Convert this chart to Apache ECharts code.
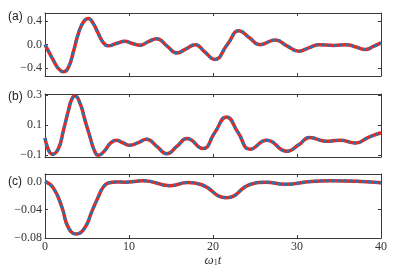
<!DOCTYPE html>
<html>
<head>
<meta charset="utf-8">
<script src="https://cdn.jsdelivr.net/npm/echarts@6/dist/echarts.min.js"></script>
<style>
  html, body { margin: 0; padding: 0; background: #fff; }
  #main { width: 395px; height: 276px; }
</style>
</head>
<body>
<div id="main"></div>
<script>
// panel (a)
var tA = [0, 1.0, 1.6, 2.2, 2.8, 3.37, 3.97, 4.56, 5.16, 5.75, 6.35, 6.94, 7.5, 8.5, 9.5, 10.4, 11.3, 12.3, 13.3, 14.5, 15.7, 16.8, 17.9, 19.0, 20.2, 21.7, 23.1, 24.3, 25.6, 27.4, 28.8, 30.2, 31.4, 32.6, 34.4, 35.9, 37.0, 38.2, 39.1, 40];
var vA = [0.0, -0.265, -0.405, -0.46, -0.38, -0.125, 0.186, 0.38, 0.44, 0.355, 0.186, 0.034, -0.02, 0.02, 0.056, 0.02, -0.01, 0.05, 0.10, -0.02, -0.14, -0.07, 0.0, -0.12, -0.25, 0.0, 0.235, 0.12, 0.0, 0.08, -0.02, -0.11, -0.055, 0.0, -0.015, 0.0, -0.04, -0.08, -0.03, 0.03];
// panel (b)
var tB = [0, 0.9, 1.6, 2.2, 2.8, 3.17, 3.57, 4.17, 4.76, 5.36, 5.87, 6.35, 7.14, 7.74, 8.5, 9.3, 10.1, 11.1, 12.1, 13.3, 14.5, 15.7, 16.9, 18.8, 20.2, 21.6, 23.0, 24.4, 26.4, 28.8, 30.2, 31.5, 33.5, 35.1, 37.0, 38.5, 40];
var vB = [0.015, -0.093, -0.055, 0.067, 0.2, 0.27, 0.293, 0.245, 0.133, 0.022, -0.067, -0.1, -0.067, -0.022, 0.0, -0.018, -0.033, -0.015, 0.007, -0.04, -0.089, -0.04, 0.011, -0.055, 0.05, 0.155, 0.05, -0.06, 0.0, -0.073, -0.03, 0.018, -0.007, 0.0, -0.018, 0.02, 0.05];
// panel (c)
var tC = [0, 1, 2, 2.77, 3.7, 4.76, 5.56, 6.35, 6.94, 7.54, 8.5, 9.5, 11.7, 14.9, 17.0, 18.5, 21.6, 24.5, 26.3, 28.6, 31.7, 34, 37.6, 40];
var vC = [0.0, -0.0095, -0.036, -0.065, -0.0743, -0.065, -0.043, -0.0216, -0.008, -0.0023, -0.0008, -0.001, 0.001, -0.006, -0.0015, -0.004, -0.023, -0.004, -0.001, -0.004, 0.0, 0.001, 0.0, -0.002];

var xTicks = [0, 10, 20, 30, 40];
var yTicksA = [-0.4, 0.0, 0.4];
var yTicksB = [-0.1, 0.1, 0.3];
var yTicksC = [-0.08, -0.04, 0.0];
var yLabelsA = ['−0.4', '0.0', '0.4'];
var yLabelsB = ['−0.1', '0.1', '0.3'];
var yLabelsC = ['−0.08', '−0.04', '0.0'];
var panelNames = ['(a)', '(b)', '(c)'];

var frame = '#3a3a3a';
var serif = 'Liberation Serif';

function pairs(t, v) {
    var out = [];
    for (var i = 0; i < t.length; i++) out.push([t[i], v[i]]);
    return out;
}

var grids = [
    { left: 45, right: 14, top: 13, height: 63 },
    { left: 45, right: 14, top: 94, height: 63 },
    { left: 45, right: 14, top: 174, height: 64 }
];
var ranges = [[-0.53, 0.535], [-0.111, 0.307], [-0.08, 0.0105]];
var yTicks = [yTicksA, yTicksB, yTicksC];
var yLabels = [yLabelsA, yLabelsB, yLabelsC];
var datas = [pairs(tA, vA), pairs(tB, vB), pairs(tC, vC)];

var xAxes = [], yAxes = [], series = [], titles = [];
var titleTops = [6, 86, 171];

for (var g = 0; g < 3; g++) {
    (function (g) {
        var labs = yLabels[g], ticks = yTicks[g];
        // bottom x
        xAxes.push({
            gridIndex: g, type: 'value', min: 0, max: 40, position: 'bottom',
            axisLine: { show: true, onZero: false, lineStyle: { color: frame, width: 1 } },
            axisTick: { show: true, inside: true, length: 3, customValues: xTicks, lineStyle: { color: frame } },
            axisLabel: g === 2 ? {
                show: true, customValues: xTicks, margin: 3, color: '#333',
                fontFamily: serif, fontSize: 12
            } : { show: false },
            splitLine: { show: false },
            name: g === 2 ? '{i|ω}{s|1}{i|t}' : '',
            nameLocation: 'middle', nameGap: 12,
            nameTextStyle: {
                rich: {
                    i: { fontFamily: serif, fontStyle: 'italic', fontSize: 13, color: '#333' },
                    s: { fontFamily: serif, fontSize: 8, color: '#333', verticalAlign: 'bottom', padding: [6, 0, 0, 0] }
                }
            }
        });
        // top x
        xAxes.push({
            gridIndex: g, type: 'value', min: 0, max: 40, position: 'top',
            axisLine: { show: true, onZero: false, lineStyle: { color: frame, width: 1 } },
            axisTick: { show: true, inside: true, length: 3, customValues: xTicks, lineStyle: { color: frame } },
            axisLabel: { show: false },
            splitLine: { show: false }
        });
        // left y
        yAxes.push({
            gridIndex: g, type: 'value', min: ranges[g][0], max: ranges[g][1], position: 'left',
            axisLine: { show: true, onZero: false, lineStyle: { color: frame, width: 1 } },
            axisTick: { show: true, inside: true, length: 3, customValues: ticks, lineStyle: { color: frame } },
            axisLabel: {
                show: true, customValues: ticks, margin: 3, color: '#333',
                fontFamily: serif, fontSize: 12,
                formatter: function (val) {
                    for (var k = 0; k < ticks.length; k++) {
                        if (Math.abs(ticks[k] - val) < 1e-9) return labs[k];
                    }
                    return '';
                }
            },
            splitLine: { show: false }
        });
        // right y
        yAxes.push({
            gridIndex: g, type: 'value', min: ranges[g][0], max: ranges[g][1], position: 'right',
            axisLine: { show: true, onZero: false, lineStyle: { color: frame, width: 1 } },
            axisTick: { show: true, inside: true, length: 3, customValues: ticks, lineStyle: { color: frame } },
            axisLabel: { show: false },
            splitLine: { show: false }
        });
        series.push({
            type: 'line', xAxisIndex: g * 2, yAxisIndex: g * 2, data: datas[g],
            smooth: 0.5, showSymbol: false, symbol: 'none', silent: true,
            lineStyle: { color: '#e8281e', width: 3.5 }
        });
        series.push({
            type: 'line', xAxisIndex: g * 2, yAxisIndex: g * 2, data: datas[g],
            smooth: 0.5, showSymbol: false, symbol: 'none', silent: true,
            lineStyle: { color: '#1f77b4', width: 3, type: [3, 3], cap: 'butt' }
        });
        titles.push({
            text: panelNames[g], left: 3, top: titleTops[g],
            textStyle: { fontFamily: 'Liberation Sans', fontSize: 12, fontWeight: 'normal', color: '#222' }
        });
    })(g);
}

var chart = echarts.init(document.getElementById('main'), null, { renderer: 'canvas' });
chart.setOption({
    animation: false,
    backgroundColor: '#fff',
    title: titles,
    grid: grids,
    xAxis: xAxes,
    yAxis: yAxes,
    series: series
});
</script>
</body>
</html>
